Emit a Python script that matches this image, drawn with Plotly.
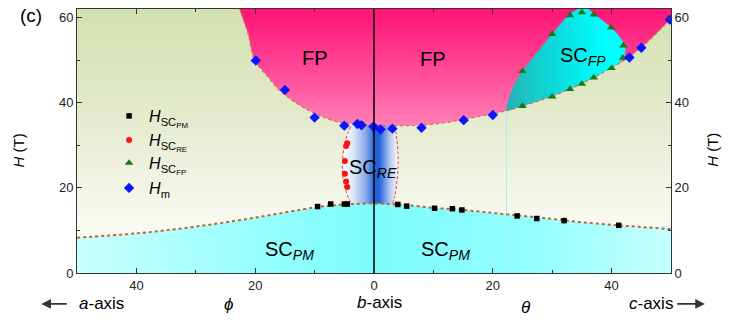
import plotly.graph_objects as go

FONT = "Liberation Sans, Arial, sans-serif"

# ---------------- data (angle: negative = phi toward a-axis, positive = theta toward c-axis) ----
pm_angle = [-9.5, -7.3, -5.0, -4.5, 4.0, 5.5, 10.2, 13.2, 14.8, 24.1, 27.4, 32.0, 41.2]
pm_H = [15.6, 16.2, 16.2, 16.2, 16.1, 15.7, 15.2, 15.1, 14.8, 13.4, 12.8, 12.3, 11.2]

re_angle = [-4.5, -4.7, -4.9, -4.9, -4.7, -4.5]
re_H = [30.5, 29.8, 26.3, 23.3, 21.5, 20.2]

fp_angle = [25, 30, 33, 35, 37, 40, 41.9, 42, 39.9, 37, 35, 33, 30, 25]
fp_H = [39.2, 41.4, 43.2, 44.4, 45.9, 48.1, 50.5, 53.4, 57.6, 60.7, 61.2, 60.5, 56.1, 47.4]

m_angle = [-19.9, -15.0, -10.0, -5.0, -2.8, -2.1, -0.1, 1.1, 3.1, 8.0, 15.1, 20.0, 43.0, 45.0, 49.8]
m_H = [49.9, 43.0, 36.5, 34.6, 35.0, 34.7, 34.4, 33.7, 33.9, 34.1, 35.9, 37.1, 50.6, 52.9, 59.5]

# phase boundaries
pm_bnd_angle = [-50, -40, -30, -20, -10, -5, 0, 5, 10, 15, 20, 25, 30, 35, 40, 45, 50]
pm_bnd_H = [8.3, 9.3, 10.9, 13.0, 15.4, 16.1, 16.3, 16.0, 15.3, 14.8, 14.1, 13.4, 12.7, 11.9, 11.3, 10.8, 10.3]

fpb_angle = [-22.6, -21.2, -20.1, -18.0, -16.0, -13.5, -11.2, -8.5, -6.2, -3.0, 0.0, 3.0, 8.0,
             12.0, 16.0, 20.0, 22.3, 25.0, 30.0, 35.0, 40.0, 43.0, 46.0, 50.0]
fpb_H = [62.0, 56.2, 49.9, 46.3, 43.0, 40.3, 38.3, 36.6, 35.5, 34.9, 34.7, 34.6, 34.7,
         35.3, 36.3, 37.4, 38.1, 39.2, 41.5, 44.5, 48.2, 50.8, 54.2, 59.8]

scfp_angle = [22.3, 25.0, 30.0, 35.0, 40.0, 42.0, 42.3, 40.0, 37.0, 35.5, 33.0, 30.0, 25.0, 23.5, 22.4]
scfp_H = [38.1, 39.2, 41.5, 44.5, 48.2, 50.4, 53.4, 57.6, 60.9, 62.5, 60.9, 56.1, 47.4, 44.0, 39.5]

re_left_angle = [-3.95, -4.4, -4.9, -5.3, -5.3, -4.9, -4.2, -3.8]
re_left_H = [34.4, 32.8, 30.5, 26.3, 23.3, 20.2, 17.3, 16.2]
re_right_angle = [3.4, 3.7, 4.05, 4.05, 3.9, 3.5, 3.1]
re_right_H = [34.4, 32.8, 28.0, 25.0, 22.0, 18.0, 16.2]

xtick_vals = [-40, -20, 0, 20, 40]
xtick_text = ["40", "20", "0", "20", "40"]
ytick_vals = [0, 20, 40, 60]

XR = [-50, 50]
YR = [0, 62]

fig = go.Figure()

# background gradient
fig.add_trace(go.Scatter(
    x=[XR[0], XR[1], XR[1], XR[0], XR[0]], y=[YR[0], YR[0], YR[1], YR[1], YR[0]],
    mode="none", fill="toself", showlegend=False, hoverinfo="skip",
    fillgradient=dict(type="vertical", start=0, stop=62,
                      colorscale=[[0, "#fdfdf9"], [0.2, "#f8f9f0"], [0.4, "#eef2de"],
                                  [0.65, "#e1e9c8"], [1, "#d3e0b1"]])))

# SC_RE region
re_poly_x = [-3.6] + re_left_angle + [-3.6, 3.0] + re_right_angle[::-1] + [3.3, -3.6]
re_poly_y = [35.5] + re_left_H + [15.0, 15.0] + re_right_H[::-1] + [35.5, 35.5]
fig.add_trace(go.Scatter(
    x=re_poly_x, y=re_poly_y, mode="none", fill="toself", showlegend=False, hoverinfo="skip",
    line=dict(shape="spline", smoothing=0.6),
    fillgradient=dict(type="horizontal", start=-5.3, stop=4.1,
                      colorscale=[[0, "#ffffff"], [0.2, "#dbe6f8"], [0.42, "#86a9ea"],
                                  [0.58, "#2060d6"], [0.66, "#2462d6"], [0.84, "#aac3ef"],
                                  [1, "#ffffff"]])))

# SC_PM region
fig.add_trace(go.Scatter(
    x=pm_bnd_angle + [50, -50], y=pm_bnd_H + [0, 0], mode="lines", fill="toself",
    line=dict(width=0, shape="spline"), showlegend=False, hoverinfo="skip",
    fillgradient=dict(type="horizontal", start=-50, stop=50,
                      colorscale=[[0, "#c9ffff"], [0.3, "#98fefe"], [0.5, "#7cfcfc"],
                                  [0.75, "#92fefe"], [1, "#c4ffff"]])))

# FP region
fig.add_trace(go.Scatter(
    x=[-23.6, -23.2] + fpb_angle + [52, 52, -23.6], y=[70, 66] + fpb_H + [64, 70, 70],
    mode="lines", fill="toself", line=dict(width=0, shape="spline", smoothing=0.8),
    showlegend=False, hoverinfo="skip",
    fillgradient=dict(type="vertical", start=34, stop=62,
                      colorscale=[[0, "#ff82b6"], [0.5, "#ff4896"], [1, "#ff1476"]])))

# SC_FP region
fig.add_trace(go.Scatter(
    x=scfp_angle + [scfp_angle[0]], y=scfp_H + [scfp_H[0]],
    mode="lines", fill="toself", line=dict(width=0, shape="spline", smoothing=0.7),
    showlegend=False, hoverinfo="skip",
    fillgradient=dict(type="horizontal", start=22, stop=39,
                      colorscale=[[0, "#28b0b0"], [0.45, "#0cd8d8"], [1, "#00ffff"]])))

# faint vertical line at boundary
fig.add_trace(go.Scatter(x=[22.3, 22.3], y=[0, 38.1], mode="lines",
                         line=dict(color="#a8eeee", width=1), showlegend=False, hoverinfo="skip"))

# boundary dotted lines
fig.add_trace(go.Scatter(x=pm_bnd_angle, y=pm_bnd_H, mode="lines",
                         line=dict(color="#c4622c", width=2, dash="dot", shape="spline"),
                         showlegend=False, hoverinfo="skip"))
fig.add_trace(go.Scatter(x=fpb_angle, y=fpb_H, mode="lines",
                         line=dict(color="#d0704a", width=1.2, dash="dot", shape="spline", smoothing=0.8),
                         showlegend=False, hoverinfo="skip"))
fig.add_trace(go.Scatter(x=re_left_angle, y=re_left_H, mode="lines",
                         line=dict(color="#e84040", width=1, dash="3px,2px", shape="spline"),
                         showlegend=False, hoverinfo="skip"))
fig.add_trace(go.Scatter(x=re_right_angle, y=re_right_H, mode="lines",
                         line=dict(color="#e84040", width=1, dash="3px,2px", shape="spline"),
                         showlegend=False, hoverinfo="skip"))

# b-axis line (on y2 so that the right axis is drawn)
fig.add_trace(go.Scatter(x=[0, 0], y=[0, 62], mode="lines", yaxis="y2",
                         line=dict(color="black", width=1.5), showlegend=False, hoverinfo="skip"))

# data markers (each in its own legend so the rows can be spaced like the original)
fig.add_trace(go.Scatter(x=pm_angle, y=pm_H, mode="markers", name="<i>H</i><sub>SC<sub>PM</sub></sub>",
                         legend="legend", marker=dict(symbol="square", size=5.5, color="black")))
fig.add_trace(go.Scatter(x=re_angle, y=re_H, mode="markers", name="<i>H</i><sub>SC<sub>RE</sub></sub>",
                         legend="legend2", marker=dict(symbol="circle", size=6, color="#ff1010")))
fig.add_trace(go.Scatter(x=fp_angle, y=fp_H, mode="markers", name="<i>H</i><sub>SC<sub>FP</sub></sub>",
                         legend="legend3", marker=dict(symbol="triangle-up", size=7.5, color="#15781a")))
fig.add_trace(go.Scatter(x=m_angle, y=m_H, mode="markers", name="<i>H</i><sub>m</sub>",
                         legend="legend4", marker=dict(symbol="diamond", size=8, color="#0a14ff")))

axis_common = dict(showline=True, linecolor="#333333", linewidth=1,
                   ticks="inside", ticklen=5, tickcolor="#333333", tickwidth=1,
                   showgrid=False, zeroline=False,
                   tickfont=dict(family=FONT, size=13, color="#222222"))
minor_common = dict(dtick=10, tick0=0, ticks="inside", ticklen=3, tickcolor="#333333")

PLOT_TOP, PLOT_H = 9, 264


def legend_at(py):
    return dict(x=0.054, y=(PLOT_TOP + PLOT_H - py) / PLOT_H, xanchor="left", yanchor="middle",
                bgcolor="rgba(0,0,0,0)", font=dict(family=FONT, size=16, color="black"),
                itemwidth=30)


fig.update_layout(
    width=730, height=334,
    margin=dict(l=77, r=59, t=9, b=61),
    paper_bgcolor="white", plot_bgcolor="white",
    font=dict(family=FONT, color="black"),
    showlegend=True,
    legend=legend_at(116), legend2=legend_at(140), legend3=legend_at(163), legend4=legend_at(188),
    xaxis=dict(range=XR, tickvals=xtick_vals, ticktext=xtick_text, mirror="ticks",
               minor=minor_common, **axis_common),
    yaxis=dict(range=YR, tickvals=ytick_vals, minor=minor_common, **axis_common),
    yaxis2=dict(range=YR, tickvals=ytick_vals, overlaying="y", side="right",
                minor=minor_common, **axis_common),
)


def ann(text, x, y, size=20, xref="x", yref="y", **kw):
    fig.add_annotation(text=text, x=x, y=y, xref=xref, yref=yref, showarrow=False,
                       xanchor="center", yanchor="middle",
                       font=dict(family=FONT, size=size, color="black"), **kw)


# region labels
ann("FP", -10.0, 50.6)
ann("FP", 9.9, 50.2)
ann("SC<sub><i>FP</i></sub>", 35.2, 50.8)
ann("SC<sub><i>RE</i></sub>", -0.2, 24.6)
ann("SC<sub><i>PM</i></sub>", -14.3, 5.2)
ann("SC<sub><i>PM</i></sub>", 12.0, 5.2)

# axis titles
ann("<i>H</i> (T)", -0.099, 0.465, size=15, xref="paper", yref="paper", textangle=-90)
ann("<i>H</i> (T)", 1.07, 0.465, size=15, xref="paper", yref="paper", textangle=-90)

# panel label
ann("(c)", -0.078, 0.975, size=19, xref="paper", yref="paper")

# bottom direction labels
ann("<i>a</i>-axis", 0.041, -0.117, size=17, xref="paper", yref="paper")
ann("<i>ϕ</i>", -24.5, -0.12, size=17, yref="paper")
ann("<i>b</i>-axis", 1.0, -0.11, size=17, yref="paper")
ann("<i>θ</i>", 25.6, -0.13, size=17, yref="paper")
ann("<i>c</i>-axis", 0.966, -0.117, size=17, xref="paper", yref="paper")

# arrows
fig.add_annotation(x=-0.06, y=-0.117, xref="paper", yref="paper", ax=27, ay=0,
                   showarrow=True, arrowhead=2, arrowsize=1.2, arrowwidth=1.6, arrowcolor="#333333", text="")
fig.add_annotation(x=1.057, y=-0.117, xref="paper", yref="paper", ax=-29, ay=0,
                   showarrow=True, arrowhead=2, arrowsize=1.2, arrowwidth=1.6, arrowcolor="#333333", text="")

fig.write_html("out.html")
